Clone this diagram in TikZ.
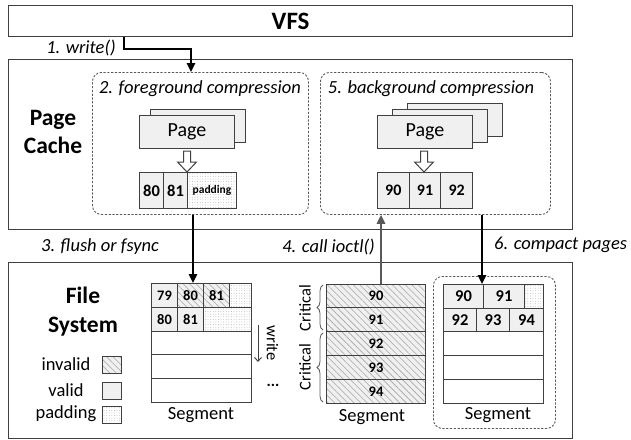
\documentclass[tikz,border=0pt]{standalone}
\usepackage{fontspec}
\setmainfont{Carlito}
\usetikzlibrary{arrows.meta,patterns.meta,decorations.pathreplacing,calc}
\definecolor{bd}{HTML}{404040}
\definecolor{cf}{HTML}{F0F0F0}
\definecolor{dg}{HTML}{595959}
\newcommand\fsz[1]{\fontsize{#1pt}{#1pt}\selectfont}
\begin{document}
\begin{tikzpicture}[x=1pt,y=-1pt,
  frame/.style={draw=bd,line width=1.2pt,inner sep=0pt,anchor=north west},
  dbox/.style={draw=dg,line width=0.9pt,dash pattern=on 2.2pt off 1.6pt,rounded corners=9pt,inner sep=0pt,anchor=north west},
  cellbase/.style={draw=bd,line width=1pt,inner sep=0pt,anchor=north west},
  valid/.style={cellbase,fill=cf},
  empty/.style={cellbase,fill=white},
  invalid/.style={cellbase,preaction={fill=cf},pattern={Lines[angle=-45,distance=4.6pt,line width=0.55pt]},pattern color=gray!70},
  pad/.style={cellbase,preaction={fill=white},pattern={Dots[radius=0.45pt,distance=2.6pt]},pattern color=gray!60},
  pagebox/.style={draw=bd,line width=1pt,fill=cf,inner sep=0pt,anchor=north west,minimum width=95pt,minimum height=33pt,font=\fsz{20}},
  lab/.style={font=\itshape\fsz{18.5},inner sep=0pt},
  lg/.style={font=\fsz{18.5},inner sep=0pt},
  arr/.style={draw=black,line width=1.6pt,-{Triangle[length=9pt,width=8.5pt]}},
  garr/.style={draw=dg,line width=1.6pt,-{Triangle[length=9pt,width=8.5pt]}},
  hollow/.style={draw=bd,line width=1pt,fill=white},
  brc/.style={draw=dg,line width=0.8pt,decorate,decoration={brace,amplitude=6pt}}
]
\useasboundingbox (0,0) rectangle (631,439);

% ---------- VFS ----------
\node[frame,minimum width=564pt,minimum height=31pt,font=\bfseries\fsz{25}] (vfs) at (8,5) {VFS};

% ---------- Page cache ----------
\node[frame,minimum width=564pt,minimum height=170pt] (pc) at (8,59) {};
\node[font=\bfseries\fontsize{23.5pt}{28pt}\selectfont,align=center,inner sep=0pt] (pclab) at (53,132) {Page\\Cache};

\node[dbox,minimum width=216pt,minimum height=142pt] (fg) at (92,72) {};
\node[lab] (fgl) at (200,89) {2. foreground compression};
\node[pagebox] (fgp2) at (150,109) {};
\node[pagebox] (fgp1) at (139,115) {Page};
\draw[hollow] (183.5,151) -- (190.5,151) -- (190.5,162) -- (196.5,162) -- (187,172) -- (177.5,162) -- (183.5,162) -- cycle;
\node[valid,minimum width=24pt,minimum height=36pt,font=\bfseries\fsz{16.5}] (f80) at (139,172) {80};
\node[valid,minimum width=24pt,minimum height=36pt,font=\bfseries\fsz{16.5}] (f81) at (163,172) {81};
\node[pad,minimum width=49pt,minimum height=36pt,font=\bfseries\fsz{11.5}] (fpad) at (187,172) {padding};

\node[dbox,minimum width=230pt,minimum height=142pt] (bg) at (320,72) {};
\node[lab] (bgl) at (431,89) {5. background compression};
\node[pagebox] (bgp3) at (407,103) {};
\node[pagebox] (bgp2) at (392,109) {};
\node[pagebox] (bgp1) at (377,115) {Page};
\draw[hollow] (420.5,151) -- (427.5,151) -- (427.5,162) -- (433.5,162) -- (424,172) -- (414.5,162) -- (420.5,162) -- cycle;
\node[valid,minimum width=31.67pt,minimum height=36pt,font=\bfseries\fsz{16}] (b90) at (377,172) {90};
\node[valid,minimum width=31.67pt,minimum height=36pt,font=\bfseries\fsz{16}] (b91) at (408.67,172) {91};
\node[valid,minimum width=31.67pt,minimum height=36pt,font=\bfseries\fsz{16}] (b92) at (440.33,172) {92};

% ---------- File system ----------
\node[frame,minimum width=564pt,minimum height=176pt] (fs) at (8,262) {};
\node[font=\bfseries\fontsize{23.5pt}{29pt}\selectfont,align=center,inner sep=0pt] (fslab) at (83,311.5) {File\\System};

\node[lg] (linv) at (66,364.5) {invalid};
\node[lg] (lval) at (66,390) {valid};
\node[lg] (lpad) at (66,414) {padding};
\node[invalid,minimum width=19pt,minimum height=17pt] (sinv) at (102,356) {};
\node[valid,minimum width=19pt,minimum height=17pt] (sval) at (102,381.5) {};
\node[pad,minimum width=19pt,minimum height=17pt] (spad) at (102,405.5) {};

% segment 1
\tikzset{s1/.style={minimum height=23.8pt,font=\bfseries\fsz{14.5}}}
\node[valid,s1,minimum width=26pt] (s1a) at (151,283) {79};
\node[invalid,s1,minimum width=26pt] (s1b) at (177,283) {80};
\node[invalid,s1,minimum width=26pt] (s1c) at (203,283) {81};
\node[pad,s1,minimum width=22pt] (s1d) at (229,283) {};
\node[valid,s1,minimum width=26pt] (s1e) at (151,306.8) {80};
\node[valid,s1,minimum width=26pt] (s1f) at (177,306.8) {81};
\node[pad,s1,minimum width=48pt] (s1g) at (203,306.8) {};
\node[empty,s1,minimum width=100pt] (s1h) at (151,330.6) {};
\node[empty,s1,minimum width=100pt] (s1i) at (151,354.4) {};
\node[empty,s1,minimum width=100pt] (s1j) at (151,378.2) {};
\node[lg] (seg1) at (201,415) {Segment};
\coordinate (wa) at (258,325);
\coordinate (wb) at (258,362);
\draw[draw=bd,line width=0.9pt,-{Straight Barb[length=4pt,width=7pt]}] (wa) -- (wb);
\node[rotate=-90,font=\fsz{16.5},inner sep=0pt] (wlab) at (272.5,343) {write};
\node[font=\bfseries\fsz{16},inner sep=0pt] (dots) at (273,385) {...};

% segment 2
\tikzset{s2/.style={minimum height=23.9pt,minimum width=99pt,font=\bfseries\fsz{14.5}}}
\node[invalid,s2] (s2a) at (326,283.5) {90};
\node[invalid,s2] (s2b) at (326,307.4) {91};
\node[invalid,s2] (s2c) at (326,331.3) {92};
\node[invalid,s2] (s2d) at (326,355.2) {93};
\node[invalid,s2] (s2e) at (326,379.1) {94};
\node[lg] (seg2) at (372,417) {Segment};
\coordinate (br1a) at (323,330);
\coordinate (br1b) at (323,285);
\coordinate (br2a) at (323,402);
\coordinate (br2b) at (323,333);
\draw[brc] (br1a) -- (br1b);
\draw[brc] (br2a) -- (br2b);
\node[rotate=90,font=\fsz{16.5},inner sep=0pt] (cr1) at (305,308) {Critical};
\node[rotate=90,font=\fsz{16.5},inner sep=0pt] (cr2) at (305,367) {Critical};

% segment 3
\node[dbox,minimum width=122pt,minimum height=152pt] (cb) at (433,276) {};
\tikzset{s3/.style={minimum height=23.7pt,font=\bfseries\fsz{16.5}}}
\node[valid,s3,minimum width=40pt] (s3a) at (443,284) {90};
\node[valid,s3,minimum width=41pt] (s3b) at (483,284) {91};
\node[pad,s3,minimum width=19pt] (s3c) at (524,284) {};
\node[valid,s3,minimum width=33pt] (s3d) at (443,307.7) {92};
\node[valid,s3,minimum width=33pt] (s3e) at (476,307.7) {93};
\node[valid,s3,minimum width=34pt] (s3f) at (509,307.7) {94};
\node[empty,s3,minimum width=100pt] (s3g) at (443,331.4) {};
\node[empty,s3,minimum width=100pt] (s3h) at (443,355.1) {};
\node[empty,s3,minimum width=100pt] (s3i) at (443,378.8) {};
\node[lg] (seg3) at (498,415) {Segment};

% ---------- connectors ----------
\coordinate (w1) at (124,49);
\coordinate (x1) at (191,0);
\draw[arr] (vfs.south -| w1) -- (w1) -| (fg.north -| x1);
\node[lab,anchor=east] (l1) at (116,48) {1. write()};

\coordinate (x3) at (193,0);
\draw[arr] (fg.south -| x3) -- (s1b.north -| x3);
\node[lab] (l3) at (100,247) {3. flush or fsync};

\coordinate (x4) at (381,0);
\draw[garr] (s2a.north -| x4) -- (bg.south -| x4);
\node[lab,anchor=east] (l4) at (375,247) {4. call ioctl()};

\coordinate (x6) at (482,0);
\draw[arr] (bg.south -| x6) -- (s3a.north -| x6);
\node[lab,anchor=west] (l6) at (494,245) {6. compact pages};
\end{tikzpicture}
\end{document}
